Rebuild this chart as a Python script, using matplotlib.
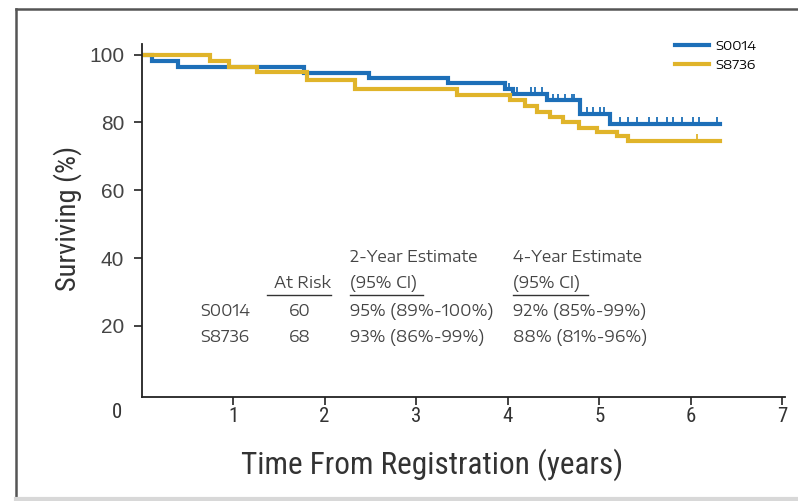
import numpy as np
import matplotlib
matplotlib.use("Agg")
import matplotlib.pyplot as plt
from matplotlib.lines import Line2D

# ---- data ----
s0014_t = [0, 0.115, 0.40, 1.77, 2.48, 3.35, 3.97, 4.06, 4.43, 4.79, 5.12, 6.32]
s0014_s = [100, 98, 96.3, 94.7, 93.2, 91.5, 89.8, 88.5, 86.5, 82.6, 79.6, 79.6]
s0014_cens = [4.02, 4.10, 4.26, 4.30, 4.37, 4.50, 4.55, 4.63, 4.70, 4.73, 4.87, 4.93,
              5.01, 5.05, 5.23, 5.32, 5.41, 5.54, 5.63, 5.74, 5.81, 5.91, 6.02, 6.09, 6.29]

s8736_t = [0, 0.75, 0.96, 1.26, 1.81, 2.33, 3.45, 4.03, 4.19, 4.32, 4.46, 4.61, 4.78,
           4.98, 5.20, 5.32, 6.32]
s8736_s = [100, 98, 96.3, 95, 92.5, 89.8, 88.2, 86.5, 85, 83, 81.5, 80, 78.5, 77.3,
           75.9, 74.5, 74.5]
s8736_cens = [6.07]

series_names = ["S0014", "S8736"]
colors = ["#1d6fb8", "#e0b42a"]

xticks = [1, 2, 3, 4, 5, 6, 7]
yticks = [20, 40, 60, 80, 100]

table_header1 = ["2-Year Estimate", "4-Year Estimate"]
table_header2 = ["At Risk", "(95% CI)", "(95% CI)"]
at_risk = [60, 68]
est2 = ["95% (89%-100%)", "93% (86%-99%)"]
est4 = ["92% (85%-99%)", "88% (81%-96%)"]

COND = ["Roboto Condensed", "DejaVu Sans"]
REG = ["Liberation Sans", "DejaVu Sans"]
WIDE = ["Encode Sans Expanded", "DejaVu Sans"]

W, H = 798, 501
fig = plt.figure(figsize=(W / 100, H / 100), dpi=100)

def fx(px):
    return px / W

def fy(py):
    return 1 - py / H

ax = fig.add_axes([fx(141.5), fy(397), fx(785) - fx(141.5), fy(44.5) - fy(397)])
ax.set_xlim(0, 7.03)
ax.set_ylim(-1, 103)

for t, s, cens, c, name in [(s0014_t, s0014_s, s0014_cens, colors[0], series_names[0]),
                            (s8736_t, s8736_s, s8736_cens, colors[1], series_names[1])]:
    ax.step(t, s, where="post", color=c, lw=3.0, solid_joinstyle="miter", label=name)
    t_arr = np.array(t)
    s_arr = np.array(s)
    idx = np.searchsorted(t_arr, np.array(cens), side="right") - 1
    ax.plot(cens, s_arr[idx] + 0.8, linestyle="none", marker="|", ms=6, mew=1.3, color=c)

for sp in ["top", "right"]:
    ax.spines[sp].set_visible(False)
for sp in ["left", "bottom"]:
    ax.spines[sp].set_color("#222222")
    ax.spines[sp].set_linewidth(1.3)

ax.set_xticks(xticks)
ax.set_xticklabels([str(v) for v in xticks], fontsize=15, color="#333333", family=COND)
ax.set_yticks(yticks)
ax.set_yticklabels([str(v) for v in yticks], fontsize=15, color="#444444", family=REG)
ax.tick_params(axis="x", length=6, width=1.2, color="#222222", pad=1.5)
ax.tick_params(axis="y", length=6, width=1.2, color="#222222", pad=6.5)

fig.text(fx(117), fy(413), "0", ha="center", va="center", fontsize=15, color="#333333",
         family=COND)

fig.text(fx(432), fy(465), "Time From Registration (years)", ha="center", va="center",
         fontsize=22.5, color="#333333", family=COND)
fig.text(fx(68), fy(218), "Surviving (%)", ha="center", va="center", rotation=90,
         fontsize=20.5, color="#333333", family=COND)

# legend
handles = [Line2D([0], [0], color=colors[0], lw=3), Line2D([0], [0], color=colors[1], lw=3)]
fig.legend(handles, series_names, loc="upper left", bbox_to_anchor=(fx(668), fy(33)),
           frameon=False, handlelength=2.6, handletextpad=0.5,
           labelspacing=0.45, borderpad=0,
           prop={"family": WIDE, "size": 9.5})

# table
tk = dict(fontsize=11.5, color="#444444", family=WIDE, va="center")
fig.text(fx(350), fy(257), table_header1[0], ha="left", **tk)
fig.text(fx(513), fy(257), table_header1[1], ha="left", **tk)
fig.text(fx(331), fy(283), table_header2[0], ha="right", **tk)
fig.text(fx(350), fy(283), table_header2[1], ha="left", **tk)
fig.text(fx(513), fy(283), table_header2[2], ha="left", **tk)
for (x0, x1) in [(267, 331), (350, 423), (513, 588)]:
    fig.add_artist(Line2D([fx(x0), fx(x1)], [fy(295), fy(295)], color="#333333", lw=1.0))
for i, yy in enumerate([312, 337]):
    fig.text(fx(200), fy(yy), series_names[i], ha="left", **tk)
    fig.text(fx(300), fy(yy), str(at_risk[i]), ha="center", **tk)
    fig.text(fx(350), fy(yy), est2[i], ha="left", **tk)
    fig.text(fx(513), fy(yy), est4[i], ha="left", **tk)

# figure frame
fig.add_artist(Line2D([fx(16), 1], [fy(9), fy(9)], color="#555555", lw=1.8))
fig.add_artist(Line2D([fx(16), fx(16)], [fy(9), 0], color="#555555", lw=1.8))
fig.add_artist(Line2D([fx(16), 1], [fy(498.5), fy(498.5)], color="#d8d8d8", lw=3))

fig.savefig("out.png", dpi=100)
